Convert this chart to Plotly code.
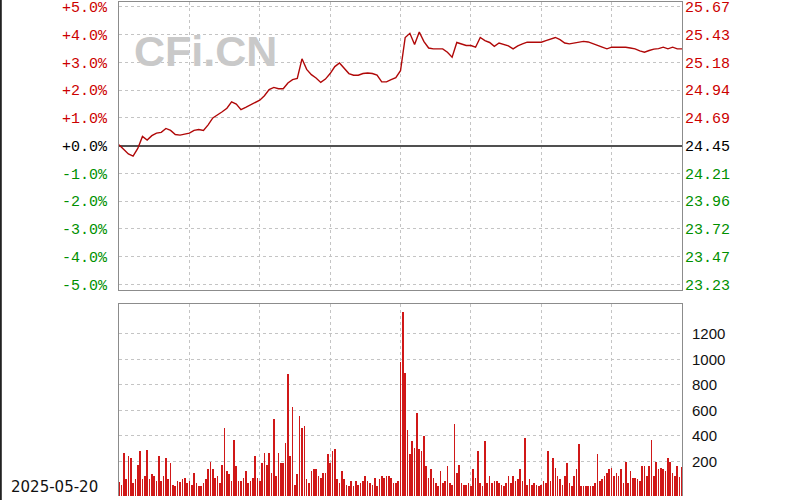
import plotly.graph_objects as go

# ---------------- data ----------------
trade_date = "2025-05-20"

# intraday % change vs previous close (24.45), sampled every 2 minutes from 09:30 (minute 0) to 15:00 (minute 240)
pct_change = [
    0.03, -0.15, -0.30, -0.38, -0.10, 0.33, 0.20, 0.36, 0.45, 0.48,
    0.62, 0.55, 0.40, 0.38, 0.42, 0.45, 0.55, 0.58, 0.55, 0.75,
    1.00, 1.10, 1.22, 1.35, 1.58, 1.50, 1.30, 1.38, 1.46, 1.55,
    1.64, 1.80, 2.02, 2.10, 2.05, 2.05, 2.26, 2.38, 2.42, 3.13,
    2.75, 2.56, 2.44, 2.28, 2.40, 2.60, 2.85, 2.98, 2.80, 2.60,
    2.54, 2.54, 2.60, 2.62, 2.60, 2.54, 2.30, 2.30, 2.38, 2.45,
    2.70, 3.90, 4.05, 3.65, 4.10, 3.75, 3.52, 3.49, 3.49, 3.49,
    3.37, 3.19, 3.72, 3.67, 3.61, 3.61, 3.55, 3.90, 3.79, 3.72,
    3.58, 3.70, 3.66, 3.60, 3.49, 3.60, 3.67, 3.73, 3.73, 3.73,
    3.73, 3.79, 3.85, 3.90, 3.82, 3.70, 3.67, 3.70, 3.72, 3.76,
    3.74, 3.67, 3.60, 3.55, 3.49, 3.55, 3.55, 3.55, 3.55, 3.52,
    3.49, 3.42, 3.37, 3.43, 3.48, 3.50, 3.55, 3.49, 3.55, 3.49,
    3.49,
]
price_minutes = list(range(0, 241, 2))

# per-minute volume (minute 0 .. 240)
volume = [
    40, 20, 270, 60, 240, 230, 35, 60, 175, 280,
    60, 85, 290, 60, 100, 85, 45, 240, 45, 85,
    230, 60, 190, 20, 8, 45, 40, 60, 70, 35,
    45, 20, 110, 35, 12, 8, 35, 60, 140, 200,
    140, 70, 85, 35, 175, 460, 125, 100, 45, 365,
    165, 45, 45, 70, 125, 35, 45, 70, 240, 70,
    45, 190, 270, 175, 270, 110, 530, 85, 270, 190,
    190, 345, 885, 240, 625, 20, 100, 555, 465, 480,
    60, 35, 125, 140, 140, 85, 70, 110, 110, 255,
    190, 280, 295, 60, 35, 125, 60, 20, 8, 45,
    12, 45, 20, 35, 45, 85, 45, 35, 20, 70,
    8, 60, 85, 70, 85, 85, 70, 35, 35, 45,
    980, 1370, 890, 450, 255, 360, 305, 580, 295, 280,
    400, 165, 70, 140, 70, 35, 10, 125, 35, 45,
    165, 35, 20, 495, 110, 175, 35, 20, 20, 35,
    8, 140, 70, 280, 35, 8, 360, 35, 85, 35,
    45, 45, 35, 20, 8, 35, 85, 35, 85, 45,
    60, 140, 45, 385, 20, 60, 20, 35, 20, 8,
    20, 45, 35, 280, 45, 230, 150, 85, 60, 20,
    85, 190, 35, 8, 85, 140, 335, 8, 10, 8,
    8, 8, 10, 35, 255, 45, 60, 85, 110, 140,
    150, 85, 110, 85, 140, 35, 200, 35, 125, 70,
    70, 60, 45, 165, 165, 85, 165, 370, 85, 200,
    140, 150, 140, 125, 230, 200, 110, 90, 165, 80,
    160,
]
volume_minutes = list(range(len(volume)))

pct_ticks = [5, 4, 3, 2, 1, 0, -1, -2, -3, -4, -5]
pct_tick_labels = ["+5.0%", "+4.0%", "+3.0%", "+2.0%", "+1.0%", "+0.0%",
                   "-1.0%", "-2.0%", "-3.0%", "-4.0%", "-5.0%"]
price_tick_labels = ["25.67", "25.43", "25.18", "24.94", "24.69", "24.45",
                     "24.21", "23.96", "23.72", "23.47", "23.23"]
volume_ticks = [200, 400, 600, 800, 1000, 1200]
volume_tick_labels = ["200", "400", "600", "800", "1000", "1200"]

# ---------------- styling ----------------
RED = "#cc0000"
GREEN = "#009000"
GRID = "#c4c4c4"
FRAME = "#8c8c8c"
VOL_FLOOR = 70


def colored(labels, ticks):
    out = []
    for t, lab in zip(ticks, labels):
        c = RED if t > 0 else (GREEN if t < 0 else "#000000")
        out.append(f'<span style="color:{c}">{lab}</span>')
    return out


fig = go.Figure()
fig.add_trace(go.Scatter(
    x=price_minutes, y=pct_change, mode="lines",
    line=dict(color="#b00808", width=1.4),
    xaxis="x", yaxis="y", showlegend=False, hoverinfo="skip"))
fig.add_trace(go.Scatter(
    x=[0], y=[0], mode="markers", marker=dict(opacity=0),
    xaxis="x", yaxis="y2", showlegend=False, hoverinfo="skip"))
fig.add_trace(go.Bar(
    x=volume_minutes, y=[v + VOL_FLOOR for v in volume], base=-VOL_FLOOR,
    marker=dict(color="#d01818", line=dict(width=0)), width=0.7,
    xaxis="x2", yaxis="y3", showlegend=False, hoverinfo="skip"))

top_dom = [(500 - 292) / 499, 1.0]
bot_dom = [0.0, (500 - 306) / 499]

fig.update_layout(
    width=800, height=500,
    margin=dict(l=119, r=118, t=1, b=0),
    paper_bgcolor="white", plot_bgcolor="white",
    bargap=0,
    xaxis=dict(domain=[0, 1], range=[0, 240], anchor="y", tick0=0, dtick=30,
               showgrid=True, gridcolor=GRID, griddash="dot", gridwidth=1,
               showticklabels=False, ticks="", zeroline=False,
               showline=True, mirror=True, linecolor=FRAME, linewidth=1),
    yaxis=dict(domain=top_dom, range=[-5.21, 5.18], anchor="x",
               tickmode="array", tickvals=pct_ticks,
               ticktext=colored(pct_tick_labels, pct_ticks),
               tickfont=dict(family="Liberation Mono", size=15),
               ticks="", ticklabelstandoff=8, ticklabeloverflow="allow",
               showgrid=True, gridcolor=GRID, griddash="dot", gridwidth=1,
               zeroline=True, zerolinecolor="#505050", zerolinewidth=2,
               showline=True, mirror=True, linecolor=FRAME, linewidth=1),
    yaxis2=dict(overlaying="y", side="right", range=[-5.21, 5.18], anchor="x",
                tickmode="array", tickvals=pct_ticks,
                ticktext=colored(price_tick_labels, pct_ticks),
                tickfont=dict(family="Liberation Mono", size=15),
                ticks="", ticklabelstandoff=2, ticklabeloverflow="allow",
                showgrid=False, zeroline=False, showline=False),
    xaxis2=dict(domain=[0, 1], range=[0, 240], anchor="y3", tick0=0, dtick=30,
                side="top",
                showgrid=True, gridcolor=GRID, griddash="dot", gridwidth=1,
                showticklabels=False, ticks="", zeroline=False,
                showline=True, mirror=False, linecolor=FRAME, linewidth=1),
    yaxis3=dict(domain=bot_dom, range=[-VOL_FLOOR, 1434], anchor="x2", side="right",
                tickmode="array", tickvals=volume_ticks, ticktext=volume_tick_labels,
                tickfont=dict(family="Liberation Sans", size=15, color="#111111"),
                ticks="", ticklabelstandoff=6,
                showgrid=True, gridcolor=GRID, griddash="dot", gridwidth=1,
                zeroline=False,
                showline=True, mirror=True, linecolor=FRAME, linewidth=1),
    annotations=[
        dict(text="CFi.CN", xref="paper", yref="paper",
             x=(205.5 - 119) / 563, y=(500 - 50) / 499,
             xanchor="center", yanchor="middle", showarrow=False,
             font=dict(family="Liberation Sans", size=43, color="#c9c9c9", weight="bold")),
        dict(text=trade_date, xref="paper", yref="paper",
             x=(9 - 119) / 563, y=(500 - 491) / 499,
             xanchor="left", yanchor="middle", showarrow=False,
             font=dict(family="DejaVu Sans", size=15, color="#111111")),
    ],
    shapes=[
        dict(type="line", xref="paper", yref="paper",
             x0=(0.8 - 119) / 563, x1=(0.8 - 119) / 563, y0=-0.01, y1=1.01,
             line=dict(color="#222222", width=2)),
    ],
)

fig.write_html(
    "out.html",
    config={"displayModeBar": False, "staticPlot": True},
    post_script="document.body.style.margin='0';document.body.style.overflow='hidden';",
)
